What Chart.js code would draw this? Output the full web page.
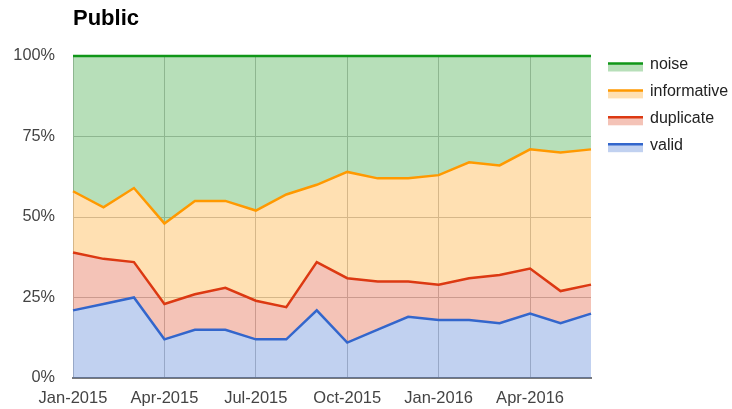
<!DOCTYPE html>
<html>
<head>
<meta charset="utf-8">
<script src="https://cdn.jsdelivr.net/npm/chart.js@4"></script>
<style>
  html, body { margin: 0; padding: 0; background: #fff; }
  #wrap { width: 732px; height: 409px; }
</style>
</head>
<body>
<div id="wrap"><canvas id="c" width="732" height="409"></canvas></div>
<script>
const categories = ['Jan-2015','Feb-2015','Mar-2015','Apr-2015','May-2015','Jun-2015','Jul-2015','Aug-2015','Sep-2015','Oct-2015','Nov-2015','Dec-2015','Jan-2016','Feb-2016','Mar-2016','Apr-2016','May-2016','Jun-2016'];
const valid       = [21,23,25,12,15,15,12,12,21,11,15,19,18,18,17,20,17,20];
const duplicate   = [18,14,11,11,11,13,12,10,15,20,15,11,11,13,15,14,10,9];
const informative = [19,16,23,25,29,27,28,35,24,33,32,32,34,36,34,37,43,42];
const noise       = [42,47,41,52,45,45,48,43,40,36,38,38,37,33,34,29,30,29];
const yTicks = [0,25,50,75,100];
const seriesNames = ['valid','duplicate','informative','noise'];

const FONT = "Arial, 'Liberation Sans', sans-serif";
const lineColors = ['#3366cc','#dc3912','#ff9900','#109618'];
const fillColors = ['rgba(51,102,204,0.3)','rgba(220,57,18,0.3)','rgba(255,153,0,0.3)','rgba(16,150,24,0.3)'];
const seriesData = [valid, duplicate, informative, noise];

const datasets = seriesNames.map((name, i) => ({
  label: name,
  data: seriesData[i],
  borderColor: lineColors[i],
  backgroundColor: fillColors[i],
  borderWidth: 2.5,
  pointRadius: 0,
  pointHoverRadius: 0,
  tension: 0,
  fill: i === 0 ? 'origin' : '-1',
  clip: 4
}));

const legendPlugin = {
  id: 'customLegend',
  afterDraw(chart) {
    const ctx = chart.ctx;
    const ds = chart.data.datasets;
    const x0 = 608, x1 = 643, tx = 650, y0 = 63.5, dy = 26.9;
    ctx.save();
    ctx.font = '16px ' + FONT;
    ctx.textBaseline = 'middle';
    ctx.textAlign = 'left';
    for (let k = 0; k < ds.length; k++) {
      const d = ds[ds.length - 1 - k];
      const y = y0 + k * dy;
      ctx.fillStyle = d.backgroundColor;
      ctx.fillRect(x0, y, x1 - x0, 8);
      ctx.strokeStyle = d.borderColor;
      ctx.lineWidth = 2.5;
      ctx.beginPath();
      ctx.moveTo(x0, y);
      ctx.lineTo(x1, y);
      ctx.stroke();
      ctx.fillStyle = '#222';
      ctx.fillText(d.label, tx, y + 1);
    }
    ctx.restore();
  }
};

new Chart(document.getElementById('c'), {
  type: 'line',
  data: { labels: categories, datasets },
  options: {
    responsive: false,
    animation: false,
    devicePixelRatio: 1,
    layout: { padding: { left: 0, right: 141, top: 0, bottom: 0 } },
    plugins: {
      legend: { display: false },
      tooltip: { enabled: false },
      title: {
        display: true,
        text: 'Public',
        align: 'start',
        fullSize: false,
        color: '#000',
        font: { family: FONT, size: 22, weight: 'bold', lineHeight: 1.2 },
        padding: { top: 5.5, bottom: 24.1 }
      }
    },
    scales: {
      x: {
        type: 'category',
        offset: false,
        grid: {
          drawTicks: false,
          color: (c) => (c.index % 3 === 0 ? '#c4c4c4' : 'rgba(0,0,0,0)'),
          lineWidth: 1
        },
        border: { display: true, color: '#7a7a7a', width: 2 },
        ticks: {
          autoSkip: false,
          maxRotation: 0,
          padding: 11,
          color: '#444',
          font: { family: FONT, size: 16.5 },
          callback: function (v, i) { return i % 3 === 0 ? categories[i] : ''; }
        },
        afterFit: (axis) => { axis.height = 31; }
      },
      y: {
        stacked: true,
        min: 0,
        max: 100,
        afterBuildTicks: (axis) => { axis.ticks = yTicks.map(v => ({ value: v })); },
        grid: { drawTicks: false, color: '#c4c4c4', lineWidth: 1 },
        border: { display: false },
        ticks: {
          padding: 18,
          color: '#444',
          font: { family: FONT, size: 16.3 },
          callback: (v) => v + '%'
        },
        afterFit: (axis) => { axis.width = 73; }
      }
    }
  },
  plugins: [legendPlugin]
});
</script>
</body>
</html>
